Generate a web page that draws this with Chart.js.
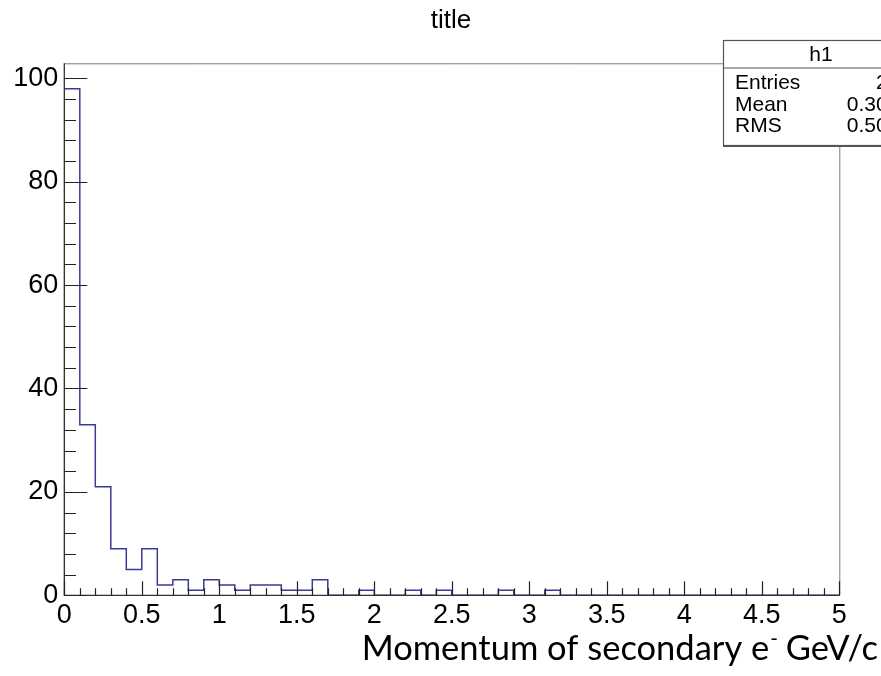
<!DOCTYPE html>
<html>
<head>
  <title>h1</title>
  <script src="https://cdn.jsdelivr.net/npm/chart.js"></script>
  <style>
    body { margin: 0; background: #fff; }
    canvas { display: block; }
  </style>
</head>
<body>
  <canvas id="histChart" width="881" height="676"></canvas>

  <script>
    // h1: 50 bins of 0.1 GeV/c from 0 to 5
    var binLow = 0;
    var binWidth = 0.1;
    var binCounts = [
      98, 33, 21, 9, 5, 9, 2, 3, 1, 3,
      2, 1, 2, 2, 1, 1, 3, 0, 0, 1,
      0, 0, 1, 0, 1, 0, 0, 0, 1, 0,
      0, 1, 0, 0, 0, 0, 0, 0, 0, 0,
      0, 0, 0, 0, 0, 0, 0, 0, 0, 0
    ];

    var xTicks = [0, 0.5, 1, 1.5, 2, 2.5, 3, 3.5, 4, 4.5, 5];
    var xTickLabels = ["0", "0.5", "1", "1.5", "2", "2.5", "3", "3.5", "4", "4.5", "5"];
    var yTicks = [0, 20, 40, 60, 80, 100];
    var yTickLabels = ["0", "20", "40", "60", "80", "100"];

    // stat box (mean / rms come from the unbinned fill values)
    var statName = "h1";
    var statMean = "0.3010";
    var statRms = "0.5012";

    var chartTitle = "title";
    var xTitleMain = "Momentum of secondary e";
    var xTitleSup = "-";
    var xTitleTail = " GeV/c";

    var xMax = binLow + binWidth * binCounts.length;
    var yMax = Math.max.apply(null, binCounts) * 1.05;
    var entries = binCounts.reduce(function(a, b) { return a + b; }, 0);

    // step outline: one point on each bin's low edge
    var histPoints = [{ x: binLow, y: 0 }];
    for (var i = 0; i < binCounts.length; i++) {
      histPoints.push({ x: binLow + i * binWidth, y: binCounts[i] });
    }
    histPoints.push({ x: xMax, y: 0 });

    var labelFont = "Liberation Sans, Arial, sans-serif";

    // frame, inward ticks, stat box and titles drawn ROOT-style
    var rootFrame = {
      id: "rootFrame",
      afterDatasetsDraw: function(chart) {
        var ctx = chart.ctx;
        var area = chart.chartArea;
        var xs = chart.scales.x;
        var ys = chart.scales.y;
        var v, px, py;

        ctx.save();

        // frame top/right
        ctx.strokeStyle = "#7a7a7a";
        ctx.lineWidth = 1;
        ctx.beginPath();
        ctx.moveTo(area.left, area.top + 0.5);
        ctx.lineTo(area.right + 0.5, area.top + 0.5);
        ctx.lineTo(area.right + 0.5, area.bottom);
        ctx.stroke();

        // axes
        ctx.strokeStyle = "#333";
        ctx.lineWidth = 1.3;
        ctx.beginPath();
        ctx.moveTo(area.left, area.top);
        ctx.lineTo(area.left, area.bottom);
        ctx.lineTo(area.right + 0.5, area.bottom);
        ctx.stroke();

        // y ticks
        ctx.lineWidth = 1.2;
        ctx.strokeStyle = "#222";
        ctx.beginPath();
        for (v = 0; v <= yMax; v += 4) {
          py = Math.round(ys.getPixelForValue(v)) + 0.5;
          var len = (v % 20 === 0) ? 23 : 11.7;
          ctx.moveTo(area.left, py);
          ctx.lineTo(area.left + len, py);
        }
        // x ticks
        for (var k = 0; k <= 50; k++) {
          v = k * 0.1;
          px = Math.round(xs.getPixelForValue(v)) + 0.5;
          var xl = (k % 5 === 0) ? 14 : 7;
          ctx.moveTo(px, area.bottom);
          ctx.lineTo(px, area.bottom - xl);
        }
        ctx.stroke();

        // stat box
        var bx = 723, by = 40, bw = 196, bh = 105;
        ctx.fillStyle = "#fff";
        ctx.fillRect(bx, by, bw, bh);
        ctx.strokeStyle = "#555";
        ctx.lineWidth = 1.2;
        ctx.strokeRect(bx + 0.5, by + 0.5, bw, bh);
        ctx.beginPath();
        ctx.moveTo(bx, by + bh + 1.5);
        ctx.lineTo(bx + bw, by + bh + 1.5);
        ctx.moveTo(bx, by + 28);
        ctx.lineTo(bx + bw, by + 28);
        ctx.stroke();

        ctx.fillStyle = "#000";
        ctx.font = "21px " + labelFont;
        ctx.textBaseline = "middle";
        ctx.textAlign = "center";
        ctx.fillText(statName, 821, 55);
        ctx.textAlign = "left";
        ctx.fillText("Entries", 735, 83);
        ctx.fillText("Mean", 735, 105);
        ctx.fillText("RMS", 735, 126);
        ctx.textAlign = "right";
        ctx.fillText(String(entries), 911, 83);
        ctx.fillText(statMean, 911, 105);
        ctx.fillText(statRms, 911, 126);

        // title
        ctx.textBaseline = "alphabetic";
        ctx.textAlign = "center";
        ctx.font = "26px " + labelFont;
        ctx.fillText(chartTitle, 451, 28);

        // x axis title with superscript minus, sized to span 362..878
        ctx.textAlign = "left";
        ctx.font = "100px Lato, sans-serif";
        var full = ctx.measureText(xTitleMain + xTitleTail).width + ctx.measureText(xTitleSup).width * 0.6;
        var size = 100 * 516 / full;
        var mainFont = size.toFixed(1) + "px Lato, sans-serif";
        var supFont = (size * 0.6).toFixed(1) + "px Lato, sans-serif";
        ctx.font = mainFont;
        var w1 = ctx.measureText(xTitleMain).width;
        var w3 = ctx.measureText(xTitleTail).width;
        ctx.font = supFont;
        var w2 = ctx.measureText(xTitleSup).width;
        var x0 = 878 - (w1 + w2 + w3);
        var base = 660;
        ctx.font = mainFont;
        ctx.fillText(xTitleMain, x0, base);
        ctx.font = supFont;
        ctx.fillText(xTitleSup, x0 + w1 + 1, base - size * 0.4);
        ctx.font = mainFont;
        ctx.fillText(xTitleTail, x0 + w1 + w2, base);

        ctx.restore();
      }
    };

    var histChart = new Chart("histChart", {
      type: "line",
      data: {
        datasets: [{
          label: statName,
          data: histPoints,
          stepped: true,
          borderColor: "#3a3a98",
          borderWidth: 1.5,
          pointRadius: 0,
          fill: false,
          tension: 0
        }]
      },
      options: {
        responsive: false,
        animation: false,
        events: [],
        layout: {
          padding: { left: 0, top: 63.3, right: 41.7, bottom: 0 }
        },
        plugins: {
          legend: { display: false },
          title: { display: false },
          tooltip: { enabled: false }
        },
        scales: {
          x: {
            type: "linear",
            min: binLow,
            max: xMax,
            grid: { display: false, drawTicks: false },
            border: { display: false },
            afterBuildTicks: function(scale) {
              scale.ticks = xTicks.map(function(t) { return { value: t }; });
            },
            afterFit: function(scale) {
              scale.height = 676 - 595.3;
            },
            ticks: {
              autoSkip: false,
              maxRotation: 0,
              padding: 4,
              color: "#000",
              font: { family: labelFont, size: 27 },
              callback: function(value, index) {
                return xTickLabels[index];
              }
            }
          },
          y: {
            type: "linear",
            min: 0,
            max: yMax,
            grid: { display: false, drawTicks: false },
            border: { display: false },
            afterBuildTicks: function(scale) {
              scale.ticks = yTicks.map(function(t) { return { value: t }; });
            },
            afterFit: function(scale) {
              scale.width = 64.3;
            },
            ticks: {
              padding: 6,
              color: "#000",
              font: { family: labelFont, size: 27 },
              callback: function(value, index) {
                return yTickLabels[index];
              }
            }
          }
        }
      },
      plugins: [rootFrame]
    });
  </script>
</body>
</html>
